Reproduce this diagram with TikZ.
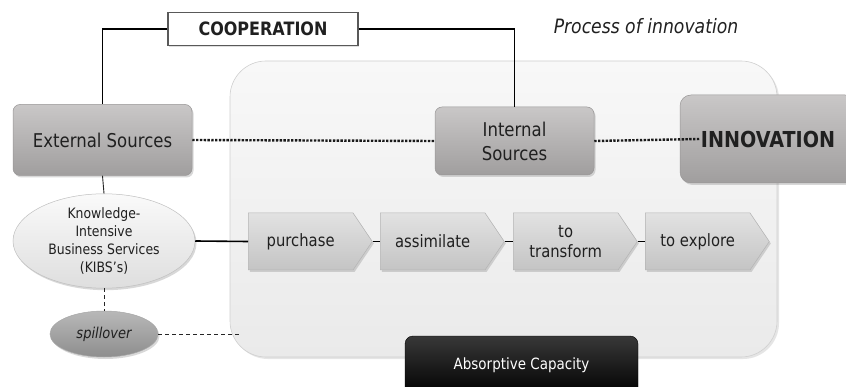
\documentclass[tikz,border=0pt]{standalone}
\usepackage{fontspec}
\setmainfont{DejaVu Sans}[FakeStretch=0.87]
\usetikzlibrary{shapes.geometric,shapes.symbols,shadows}

\definecolor{boxtop}{HTML}{C9C7C7}
\definecolor{boxbot}{HTML}{A09E9E}
\definecolor{boxedge}{HTML}{989696}
\definecolor{txt}{HTML}{202020}
\definecolor{paneltop}{HTML}{F8F8F8}
\definecolor{panelbot}{HTML}{EAEAEA}
\definecolor{paneledge}{HTML}{D0D0D0}
\definecolor{steptop}{HTML}{E2E2E2}
\definecolor{stepbot}{HTML}{C4C4C4}
\definecolor{stepedge}{HTML}{B4B4B4}
\definecolor{ovaltop}{HTML}{FAFAFA}
\definecolor{ovalbot}{HTML}{DEDEDE}
\definecolor{spilltop}{HTML}{B8B8B8}
\definecolor{spillbot}{HTML}{8E8E8E}

\tikzset{
  fsz/.style={font=\fontsize{#1}{24}\selectfont},
  softshadow/.style={drop shadow={opacity=0.3,shadow xshift=1.5pt,shadow yshift=-2pt}},
  graybox/.style={rectangle, rounded corners=7pt, top color=boxtop, bottom color=boxbot,
    draw=boxedge, line width=0.5pt, softshadow, text=txt, align=center, inner sep=0pt},
  stepbox/.style={signal, signal to=east, signal pointer angle=112, anchor=west,
    minimum width=124pt, minimum height=57pt, inner sep=0pt,
    top color=steptop, bottom color=stepbot, draw=stepedge, line width=0.5pt,
    softshadow, text=txt, align=center,
    font=\fontsize{17}{20}\selectfont},
  panel/.style={rectangle, rounded corners=36pt, top color=paneltop, bottom color=panelbot,
    draw=paneledge, line width=0.6pt, drop shadow={opacity=0.2,shadow xshift=2pt,shadow yshift=-2pt}},
  link/.style={line width=1.3pt, black},
  thinlink/.style={line width=0.9pt, black!85},
  dotlink/.style={line width=2.4pt, black!90, dash pattern=on 2.4pt off 1.4pt},
  dashlink/.style={line width=0.9pt, black!85, dash pattern=on 4pt off 3pt},
}

\begin{document}
\begin{tikzpicture}[x=1pt,y=-1pt]
\clip (0,0) rectangle (846,387);
\fill[white] (0,0) rectangle (846,387);

% large light panel holding the process steps
\node[panel, minimum width=547pt, minimum height=296pt] (panel) at (503.5,209) {};

% title
\node[fsz=19.8, text=txt] (title) at (646,26) {\itshape Process of innovation};

% cooperation label
\node[rectangle, draw=black!65, line width=1.3pt, fill=white, minimum width=190pt,
      minimum height=33pt, inner sep=0pt, fsz=18.4, text=txt,
      drop shadow={opacity=0.25,shadow xshift=1pt,shadow yshift=-1.5pt}] (coop) at (263,29)
      {\bfseries COOPERATION};

% sources and outcome
\node[graybox, minimum width=179pt, minimum height=71pt, fsz=19] (ext) at (102.5,140) {External Sources};
\node[graybox, minimum width=159pt, minimum height=68pt, font=\fontsize{19}{24}\selectfont] (int) at (514.5,141)
      {Internal\\Sources};
\node[graybox, rounded corners=11pt, minimum width=176pt, minimum height=88pt, fsz=22] (innov) at (768,139)
      {\bfseries INNOVATION};

% cooperation links
\draw[link] (ext.north) |- (coop.west);
\draw[link] (coop.east) -| (int.north);

% dotted flow towards innovation
\draw[dotlink] (ext.east) -- (int.west);
\draw[dotlink] (int.east) -- ([xshift=20pt]innov.west);

% knowledge-intensive services and spillover
\node[ellipse, minimum width=182pt, minimum height=92pt, inner sep=0pt, top color=ovaltop,
      bottom color=ovalbot, draw=black!25, line width=0.5pt, softshadow, text=txt, align=center,
      font=\fontsize{14.3}{18}\selectfont]
      (kibs) at (104,241)
      {Knowledge-\\Intensive\\Business Services\\(KIBS’s)};
\node[ellipse, minimum width=108pt, minimum height=46pt, inner sep=0pt, top color=spilltop,
      bottom color=spillbot, draw=black!35, line width=0.5pt, softshadow, text=txt, fsz=15]
      (spill) at (104,334) {\itshape spillover};

\draw[thinlink] (ext.south) -- (kibs.north);
\draw[dashlink] (kibs.south) -- (spill.north);
\coordinate (spillend) at (240,334);
\draw[dashlink] (spill.east) -- (spillend);

% absorptive capacity steps
\node[stepbox] (p1) at (248,241.5) {purchase};
\node[stepbox] (p2) at (380,241.5) {assimilate};
\node[stepbox] (p3) at (513,241.5) {to\\transform};
\node[stepbox] (p4) at (645,241.5) {to explore};

\draw[line width=1.6pt, black] (kibs.east) -- (p1.west);
\draw[line width=1.6pt, black] (p1.east) -- (p2.west);
\draw[line width=1.6pt, black] (p2.east) -- (p3.west);
\draw[line width=1.6pt, black] (p3.east) -- (p4.west);

% label of the panel
\node[rectangle, rounded corners=8pt, top color=black!78, bottom color=black, draw=black,
      minimum width=233pt, minimum height=60pt, inner sep=0pt, text=white, fsz=15.5,
      text depth=0pt] (abscap) at (521.5,366) {\raisebox{5pt}{Absorptive Capacity}};
\end{tikzpicture}
\end{document}
